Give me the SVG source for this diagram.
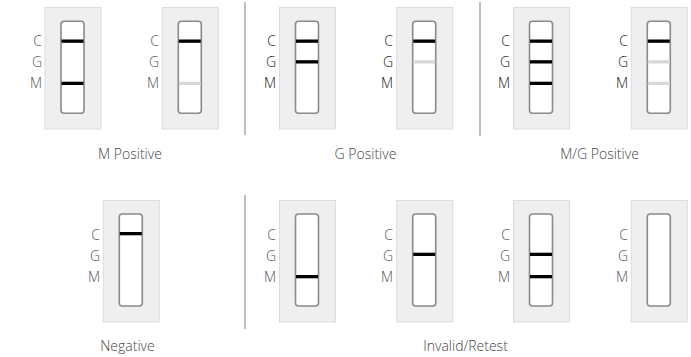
<svg xmlns="http://www.w3.org/2000/svg" width="691" height="357" viewBox="0 0 691 357">
<style>
.card{fill:#efefef;stroke:#dcdcdc;stroke-width:1}
.strip{fill:#fff;stroke:#8a8a8a;stroke-width:1.6}
.band{fill:#000}
.faint{fill:#d9d9d9}
.lbl{font-family:"Open Sans","Liberation Sans",sans-serif;font-size:14px;font-weight:300;fill:#555;text-anchor:end}
.dk{fill:#1a1a1a}
.cap{font-family:"Open Sans","Liberation Sans",sans-serif;font-size:14px;font-weight:300;fill:#444;text-anchor:middle}
.div{stroke:#aaa;stroke-width:1.5}
</style>
<rect width="691" height="357" fill="#fff"/>
<g id="connectors">
<line class="div" x1="245" y1="2" x2="245" y2="135"/>
<line class="div" x1="480" y1="2" x2="480" y2="136"/>
<line class="div" x1="245" y1="195" x2="245" y2="329"/>
</g>
<g id="card1">
<rect class="card" x="45" y="7.5" width="56" height="121.5"/>
<rect class="strip" x="61" y="21.3" width="23" height="92" rx="3"/>
<rect class="band" x="61.5" y="39.5" width="22" height="3.3"/>
<rect class="band" x="61.5" y="81.7" width="22" height="3.3"/>
<text class="lbl" x="42" y="46">C</text><text class="lbl" x="42" y="67">G</text><text class="lbl" x="42" y="88">M</text>
</g>
<g id="card2">
<rect class="card" x="162.3" y="7.5" width="56" height="121.5"/>
<rect class="strip" x="178.3" y="21.3" width="23" height="92" rx="3"/>
<rect class="band" x="178.8" y="39.5" width="22" height="3.3"/>
<rect class="faint" x="178.8" y="81.7" width="22" height="3.3"/>
<text class="lbl" x="159" y="46">C</text><text class="lbl" x="159" y="67">G</text><text class="lbl" x="159" y="88">M</text>
</g>
<g id="card3">
<rect class="card" x="279.5" y="7.5" width="56" height="121.5"/>
<rect class="strip" x="295.5" y="21.3" width="23" height="92" rx="3"/>
<rect class="band" x="296" y="39.5" width="22" height="3.3"/>
<rect class="band" x="296" y="60.2" width="22" height="3.3"/>
<text class="lbl dk" x="276" y="46">C</text><text class="lbl dk" x="276" y="67">G</text><text class="lbl dk" x="276" y="88">M</text>
</g>
<g id="card4">
<rect class="card" x="396.7" y="7.5" width="56" height="121.5"/>
<rect class="strip" x="412.7" y="21.3" width="23" height="92" rx="3"/>
<rect class="band" x="413.2" y="39.5" width="22" height="3.3"/>
<rect class="faint" x="413.2" y="60.2" width="22" height="3.3"/>
<text class="lbl dk" x="393" y="46">C</text><text class="lbl dk" x="393" y="67">G</text><text class="lbl dk" x="393" y="88">M</text>
</g>
<g id="card5">
<rect class="card" x="513.5" y="7.5" width="56" height="121.5"/>
<rect class="strip" x="529.5" y="21.3" width="23" height="92" rx="3"/>
<rect class="band" x="530" y="39.5" width="22" height="3.3"/>
<rect class="band" x="530" y="60.2" width="22" height="3.3"/>
<rect class="band" x="530" y="81.7" width="22" height="3.3"/>
<text class="lbl dk" x="510" y="46">C</text><text class="lbl dk" x="510" y="67">G</text><text class="lbl dk" x="510" y="88">M</text>
</g>
<g id="card6">
<rect class="card" x="631.3" y="7.5" width="56" height="121.5"/>
<rect class="strip" x="647.3" y="21.3" width="23" height="92" rx="3"/>
<rect class="band" x="647.8" y="39.5" width="22" height="3.3"/>
<rect class="faint" x="647.8" y="60.2" width="22" height="3.3"/>
<rect class="faint" x="647.8" y="81.7" width="22" height="3.3"/>
<text class="lbl dk" x="628" y="46">C</text><text class="lbl dk" x="628" y="67">G</text><text class="lbl dk" x="628" y="88">M</text>
</g>
<g id="card7">
<rect class="card" x="103.3" y="200.5" width="56" height="121.5"/>
<rect class="strip" x="119.3" y="214" width="23" height="92" rx="3"/>
<rect class="band" x="119.8" y="232" width="22" height="3.3"/>
<text class="lbl" x="100" y="240">C</text><text class="lbl" x="100" y="261">G</text><text class="lbl" x="100" y="282">M</text>
</g>
<g id="card8">
<rect class="card" x="279.5" y="200.5" width="56" height="121.5"/>
<rect class="strip" x="295.5" y="214" width="23" height="92" rx="3"/>
<rect class="band" x="296" y="275" width="22" height="3.3"/>
<text class="lbl" x="276" y="240">C</text><text class="lbl" x="276" y="261">G</text><text class="lbl" x="276" y="282">M</text>
</g>
<g id="card9">
<rect class="card" x="396.7" y="200.5" width="56" height="121.5"/>
<rect class="strip" x="412.7" y="214" width="23" height="92" rx="3"/>
<rect class="band" x="413.2" y="252.7" width="22" height="3.3"/>
<text class="lbl" x="393" y="240">C</text><text class="lbl" x="393" y="261">G</text><text class="lbl" x="393" y="282">M</text>
</g>
<g id="card10">
<rect class="card" x="513.5" y="200.5" width="56" height="121.5"/>
<rect class="strip" x="529.5" y="214" width="23" height="92" rx="3"/>
<rect class="band" x="530" y="252.7" width="22" height="3.3"/>
<rect class="band" x="530" y="275" width="22" height="3.3"/>
<text class="lbl" x="510" y="240">C</text><text class="lbl" x="510" y="261">G</text><text class="lbl" x="510" y="282">M</text>
</g>
<g id="card11">
<rect class="card" x="631.3" y="200.5" width="56" height="121.5"/>
<rect class="strip" x="647.3" y="214" width="23" height="92" rx="3"/>
<text class="lbl" x="628" y="240">C</text><text class="lbl" x="628" y="261">G</text><text class="lbl" x="628" y="282">M</text>
</g>
<g id="captions">
<text class="cap" x="130" y="159">M Positive</text>
<text class="cap" x="365.5" y="159">G Positive</text>
<text class="cap" x="599.5" y="159">M/G Positive</text>
<text class="cap" x="127.5" y="351">Negative</text>
<text class="cap" x="465.5" y="351">Invalid/Retest</text>
</g>
</svg>
